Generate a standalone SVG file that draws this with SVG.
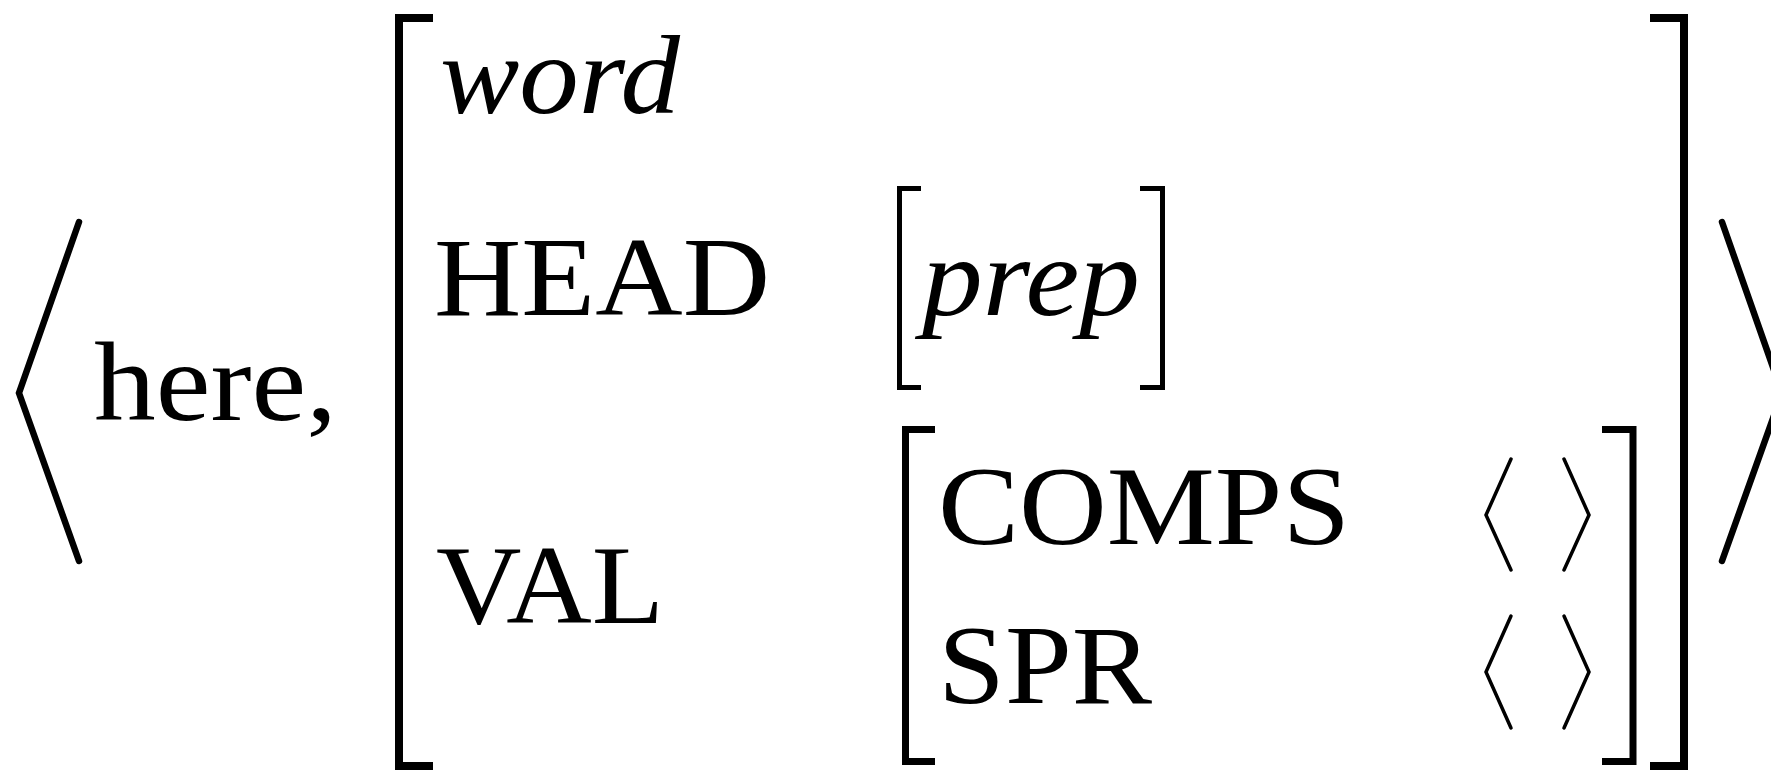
<svg xmlns="http://www.w3.org/2000/svg" width="1771" height="771" viewBox="0 0 1771 771">
<style>
.t{font-family:"Liberation Serif","DejaVu Serif",serif;font-size:112px;fill:#000}
.i{font-style:italic}
.br{fill:none;stroke:#000;stroke-linejoin:miter;stroke-linecap:butt}
.ang{fill:none;stroke:#000;stroke-linecap:round;stroke-linejoin:miter}
</style>
<rect width="1771" height="771" fill="#fff"/>
<g id="tuple">
<path class="ang" stroke-width="6.5" d="M79 222 L19 393 L79 561"/>
<text class="t" x="94" y="420" textLength="243" lengthAdjust="spacingAndGlyphs">here,</text>
<path class="ang" stroke-width="6.5" d="M1722 222 L1782 393 L1722 561"/>
</g>
<g id="outer-avm">
<path class="br" stroke-width="8" d="M433 18 H399 V766 H433"/>
<path class="br" stroke-width="8" d="M1650 18 H1684 V766 H1650"/>
<text class="t i" x="440" y="113" textLength="240" lengthAdjust="spacingAndGlyphs">word</text>
<text class="t" x="434" y="315" textLength="336" lengthAdjust="spacingAndGlyphs">HEAD</text>
<text class="t" x="436" y="623" textLength="228" lengthAdjust="spacingAndGlyphs">VAL</text>
</g>
<g id="head-value">
<path class="br" stroke-width="5" d="M921 188.5 H899.5 V387.5 H921"/>
<path class="br" stroke-width="5" d="M1140 188.5 H1162.5 V387.5 H1140"/>
<text class="t i" x="922" y="315" textLength="218" lengthAdjust="spacingAndGlyphs">prep</text>
</g>
<g id="val-value">
<path class="br" stroke-width="7" d="M935 429.5 H905.5 V761.5 H935"/>
<path class="br" stroke-width="7" d="M1602 429.5 H1633 V761.5 H1602"/>
<text class="t" x="938" y="544" textLength="412" lengthAdjust="spacingAndGlyphs">COMPS</text>
<text class="t" x="938" y="703" textLength="214" lengthAdjust="spacingAndGlyphs">SPR</text>
<path class="ang" stroke-width="3.5" d="M1511 459 L1486 515 L1511 570"/>
<path class="ang" stroke-width="3.5" d="M1564 459 L1589 515 L1564 570"/>
<path class="ang" stroke-width="3.5" d="M1511 616 L1486 672 L1511 728"/>
<path class="ang" stroke-width="3.5" d="M1564 616 L1589 672 L1564 728"/>
</g>
</svg>
